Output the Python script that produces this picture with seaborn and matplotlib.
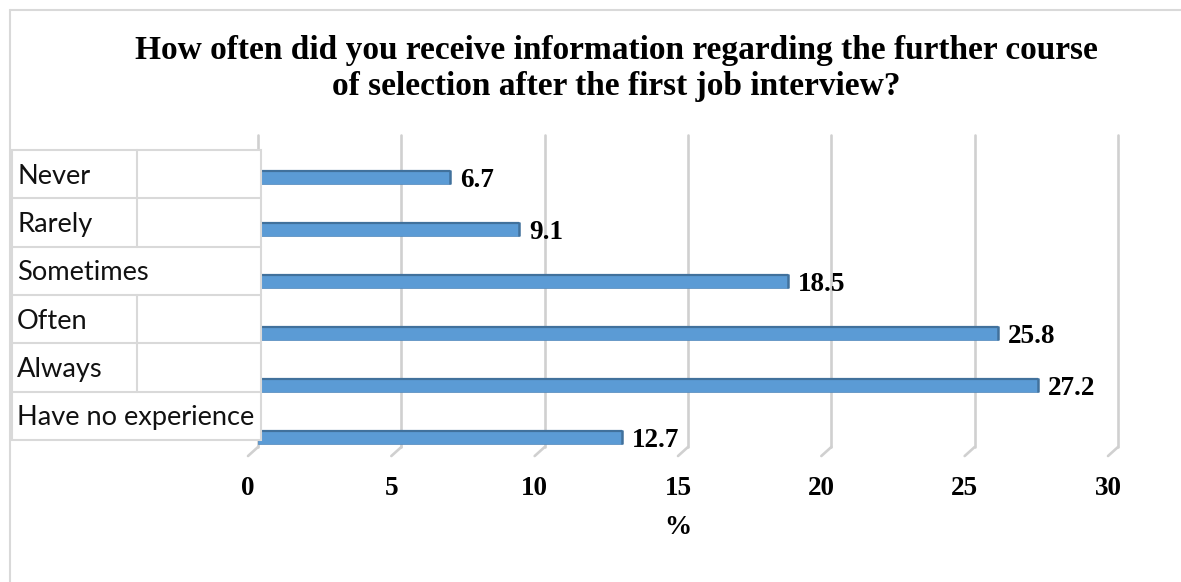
import matplotlib
matplotlib.use("Agg")
import matplotlib.pyplot as plt
from matplotlib.patches import Rectangle
from matplotlib.lines import Line2D
from matplotlib.transforms import ScaledTranslation
import seaborn as sns
import pandas as pd

# Survey answers and the share of respondents (%)
categories = ["Never", "Rarely", "Sometimes", "Often", "Always", "Have no experience"]
values = [6.7, 9.1, 18.5, 25.8, 27.2, 12.7]
x_ticks = [0, 5, 10, 15, 20, 25, 30]
title_lines = [
    "How often did you receive information regarding the further course",
    "of selection after the first job interview?",
]
x_label = "%"

sns.set_theme(style="white")
plt.rcParams["font.family"] = ["Liberation Serif", "DejaVu Serif"]

W, H = 1181, 582
fig = plt.figure(figsize=(W / 100, H / 100), dpi=100)
fig.patch.set_facecolor("white")


def fx(px):
    return px / W


def fy(py):
    return 1 - py / H


BAR = "#5B9BD5"
BAR_DARK = "#41719C"
GRID = "#D0D0D0"
FRAME = "#D9D9D9"

# plot area (back wall of the 3-D chart)
left, right, top, bottom = 258, 1118, 135, 447
ax = fig.add_axes([fx(left), fy(bottom), fx(right - left), (bottom - top) / H])

df = pd.DataFrame({"answer": categories, "share": values})
sns.barplot(data=df, x="share", y="answer", orient="h", color=BAR,
            width=0.27, saturation=1, edgecolor="#4F87BA", linewidth=0.5,
            ax=ax, zorder=3)

y_top, y_bot = -0.808, 5.19
ax.set_xlim(x_ticks[0], x_ticks[-1])
ax.set_ylim(y_bot, y_top)

# darker top edge and end cap to give the bars some depth
for p in ax.patches:
    x0, y0 = p.get_x(), p.get_y()
    w, h = p.get_width(), p.get_height()
    ax.plot([x0, x0 + w], [y0 + h * 0.06, y0 + h * 0.06], color=BAR_DARK,
            lw=1.6, solid_capstyle="butt", zorder=4)
    ax.plot([x0 + w, x0 + w], [y0, y0 + h], color=BAR_DARK, lw=1.8,
            solid_capstyle="butt", zorder=4)

# vertical gridlines with a slanted foot on the floor
for t in x_ticks:
    ax.plot([t, t], [y_top, y_bot], color=GRID, lw=1.9, zorder=1,
            solid_capstyle="round", clip_on=False)
    ax.annotate("", xy=(t, y_bot), xytext=(-7.2, -6.5),
                textcoords="offset points",
                arrowprops=dict(arrowstyle="-", color=GRID, lw=1.9,
                                shrinkA=0, shrinkB=0),
                annotation_clip=False)

for s in ax.spines.values():
    s.set_visible(False)
ax.set_facecolor("none")
ax.set_xlabel("")
ax.set_ylabel("")
ax.set_yticks([])
ax.set_xticks(x_ticks)
ax.set_xticklabels([str(t) for t in x_ticks], fontsize=19.5,
                   fontweight="bold", color="black")
ax.tick_params(axis="x", length=0, pad=21)
shift = ScaledTranslation(-10 / 100, 0, fig.dpi_scale_trans)
for lab in ax.get_xticklabels():
    lab.set_transform(lab.get_transform() + shift)

# value labels next to the bar ends
for i, v in enumerate(values):
    ax.annotate(f"{v}", xy=(v, i), xytext=(7.2, -2.2),
                textcoords="offset points", ha="left", va="center",
                fontsize=19.5, fontweight="bold", color="black", zorder=5,
                annotation_clip=False)

# title and axis label
fig.text(fx(616), fy(51), title_lines[0], ha="center", va="center",
         fontsize=24, fontweight="bold", color="black")
fig.text(fx(616), fy(87), title_lines[1], ha="center", va="center",
         fontsize=24, fontweight="bold", color="black")
fig.text(fx(678), fy(527), x_label, ha="center", va="center",
         fontsize=19.5, fontweight="bold", color="black")

# outer chart frame (left and top edges)
fig.add_artist(Line2D([fx(10), fx(10)], [fy(10), 0], color=FRAME, lw=1.5))
fig.add_artist(Line2D([fx(10), 1], [fy(10), fy(10)], color=FRAME, lw=1.5))

# category table on the left
t_left, t_right, t_top, t_bot = 12, 261, 150, 440
col_x = 137
row_h = (t_bot - t_top) / len(categories)
fig.add_artist(Rectangle((fx(t_left), fy(t_bot)), fx(t_right - t_left),
                         (t_bot - t_top) / H, facecolor="white",
                         edgecolor=FRAME, lw=1.5, zorder=5))
for i, cat in enumerate(categories):
    r_top = t_top + i * row_h
    r_bot = r_top + row_h
    if i > 0:
        fig.add_artist(Line2D([fx(t_left), fx(t_right)], [fy(r_top)] * 2,
                              color=FRAME, lw=1.5, zorder=6))
    if len(cat) <= 7:
        fig.add_artist(Line2D([fx(col_x), fx(col_x)], [fy(r_top), fy(r_bot)],
                              color=FRAME, lw=1.5, zorder=6))
    fig.text(fx(17), fy(r_top + row_h / 2 + 2), cat, ha="left", va="center",
             fontsize=19.6, color="#111111", family=["Lato", "DejaVu Sans"],
             zorder=7)

fig.savefig("out.png", dpi=100)
